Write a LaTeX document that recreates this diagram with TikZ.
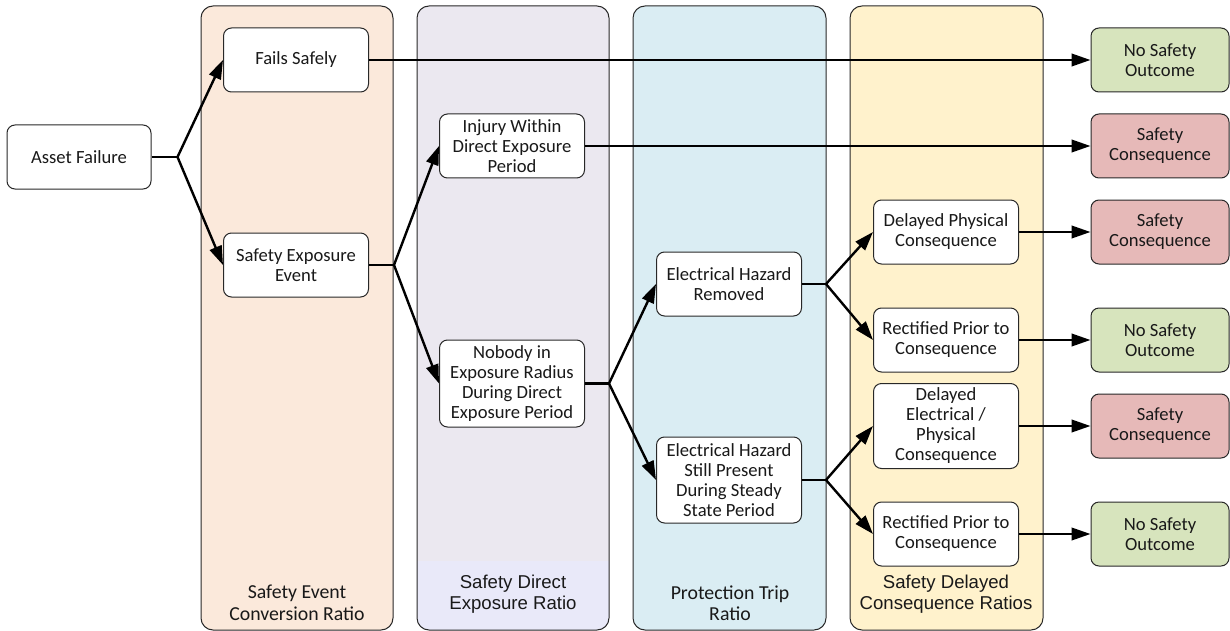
\documentclass[tikz,border=0pt]{standalone}
\usepackage{fontspec}
\setmainfont{Carlito}
\newfontfamily\arialfont{Liberation Sans}
\usetikzlibrary{arrows.meta,calc}

\definecolor{panelA}{RGB}{251,233,219}
\definecolor{panelB}{RGB}{235,232,240}
\definecolor{panelBlow}{RGB}{233,233,249}
\definecolor{panelC}{RGB}{218,237,243}
\definecolor{panelD}{RGB}{255,242,204}
\definecolor{goodfill}{RGB}{215,228,189}
\definecolor{badfill}{RGB}{230,185,184}
\definecolor{edge}{RGB}{40,40,40}
\definecolor{txt}{RGB}{25,25,25}

\tikzset{
  panel/.style={rounded corners=12pt, draw=edge, line width=1pt},
  stagebox/.style={rectangle, rounded corners=8pt, draw=edge, line width=1pt,
    fill=white, minimum width=145pt, minimum height=64pt, align=center,
    inner sep=0pt, text=txt, font=\fontsize{18.6}{20}\selectfont},
  outbox/.style={stagebox, minimum width=138pt},
  good/.style={outbox, fill=goodfill},
  bad/.style={outbox, fill=badfill},
  conn/.style={line width=2.4pt, draw=black},
  arr/.style={-{Triangle[length=19pt,width=12.5pt]}},
  calibrilabel/.style={align=center, text=txt, font=\fontsize{19.8}{21.5}\selectfont},
  ariallabel/.style={align=center, text=txt, font=\arialfont\fontsize{18.6}{21}\selectfont},
}

\begin{document}
\begin{tikzpicture}[x=1pt,y=-1pt]
\useasboundingbox (0,0) rectangle (1230,631);

% stage panels
\path[panel, fill=panelA] (201,6) rectangle (393,630);
\fill[panelB, rounded corners=12pt] (417,6) rectangle (609,630);
\begin{scope}
  \clip[rounded corners=12pt] (417,6) rectangle (609,630);
  \fill[panelBlow] (417,561) rectangle (609,630);
\end{scope}
\draw[panel] (417,6) rectangle (609,630);
\path[panel, fill=panelC] (633,6) rectangle (826,630);
\path[panel, fill=panelD] (850,6) rectangle (1043,630);

% stage labels
\node[calibrilabel] (labA) at (297,603) {Safety Event\\Conversion Ratio};
\node[ariallabel] (labB) at (513,594) {Safety Direct\\Exposure Ratio};
\node[calibrilabel] (labC) at (730,603) {Protection Trip\\Ratio};
\node[ariallabel] (labD) at (946,594) {Safety Delayed\\Consequence Ratios};

% event boxes
\node[stagebox, minimum width=144pt] (af) at (79,157) {Asset Failure};
\node[stagebox] (fs) at (296,60) {Fails Safely};
\node[stagebox] (see) at (296,265) {Safety Exposure\\Event};
\node[stagebox] (inj) at (512,146) {Injury Within\\Direct Exposure\\Period};
\node[stagebox, minimum height=87pt] (nob) at (512,383.5) {Nobody in\\Exposure Radius\\During Direct\\Exposure Period};
\node[stagebox] (ehr) at (729,284) {Electrical Hazard\\Removed};
\node[stagebox, minimum height=86pt] (ehp) at (729,480) {Electrical Hazard\\Still Present\\During Steady\\State Period};
\node[stagebox] (dpc) at (946,232) {Delayed Physical\\Consequence};
\node[stagebox] (rp1) at (946,340) {Rectified Prior to\\Consequence};
\node[stagebox, minimum height=85pt] (dep) at (946,426) {Delayed\\Electrical /\\Physical\\Consequence};
\node[stagebox] (rp2) at (946,534) {Rectified Prior to\\Consequence};

% outcome boxes
\node[good] (o1) at (1160,60) {No Safety\\Outcome};
\node[bad] (o2) at (1160,146) {Safety\\Consequence};
\node[bad] (o3) at (1160,232) {Safety\\Consequence};
\node[good] (o4) at (1160,340) {No Safety\\Outcome};
\node[bad] (o5) at (1160,426) {Safety\\Consequence};
\node[good] (o6) at (1160,534) {No Safety\\Outcome};

% branch points
\coordinate (b1) at ($(af.east)+(26,0)$);
\coordinate (b2) at ($(see.east)+(25,0)$);
\coordinate (b3) at ($(nob.east)+(24,0)$);
\coordinate (b4) at ($(ehr.east)+(24,0)$);
\coordinate (b5) at ($(ehp.east)+(24,0)$);

% connectors
\draw[conn] (af.east) -- (b1);
\draw[conn, arr] (b1) -- (fs.west);
\draw[conn, arr] (b1) -- (see.west);
\draw[conn] (see.east) -- (b2);
\draw[conn, arr] (b2) -- (inj.west);
\draw[conn, arr] (b2) -- (nob.west);
\draw[conn] (nob.east) -- (b3);
\draw[conn, arr] (b3) -- (ehr.west);
\draw[conn, arr] (b3) -- (ehp.west);
\draw[conn] (ehr.east) -- (b4);
\draw[conn, arr] (b4) -- (dpc.west);
\draw[conn, arr] (b4) -- (rp1.west);
\draw[conn] (ehp.east) -- (b5);
\draw[conn, arr] (b5) -- (dep.west);
\draw[conn, arr] (b5) -- (rp2.west);

\draw[conn, arr] (fs.east) -- (o1.west);
\draw[conn, arr] (inj.east) -- (o2.west);
\draw[conn, arr] (dpc.east) -- (o3.west);
\draw[conn, arr] (rp1.east) -- (o4.west);
\draw[conn, arr] (dep.east) -- (o5.west);
\draw[conn, arr] (rp2.east) -- (o6.west);
\end{tikzpicture}
\end{document}
